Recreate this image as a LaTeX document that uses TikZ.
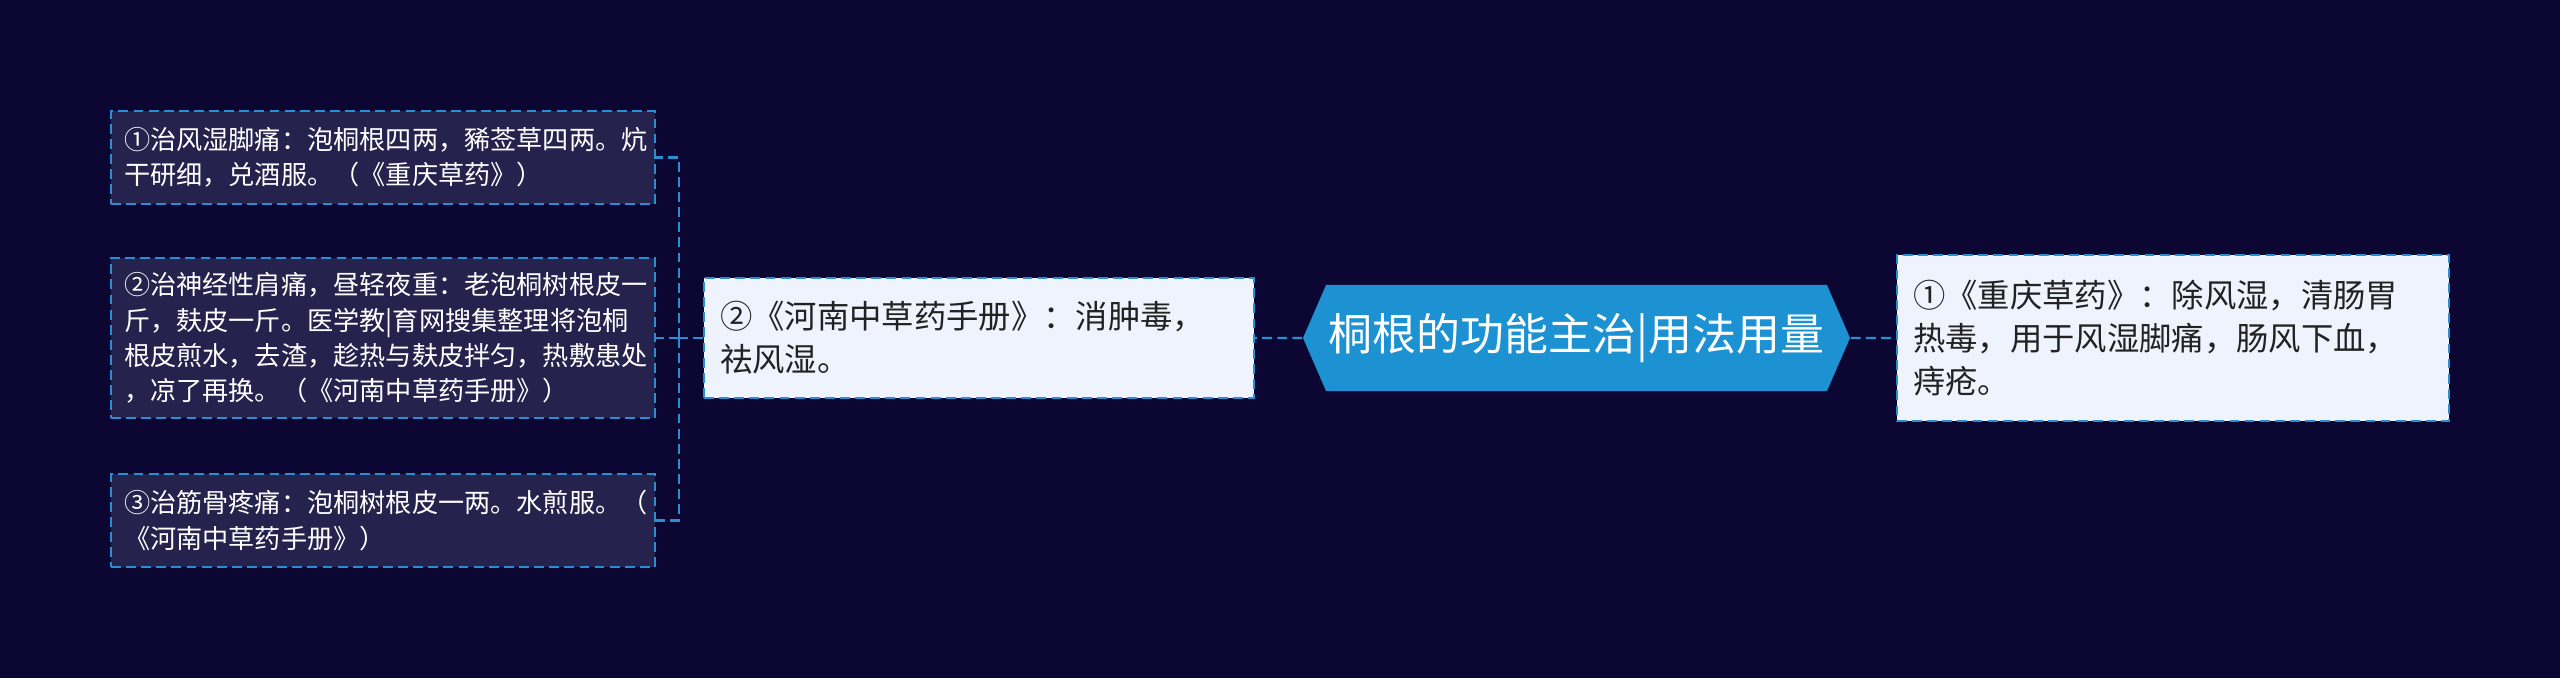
\documentclass[tikz,border=0pt]{standalone}
\usepackage{fontspec}
\setmainfont{Noto Sans CJK SC}
\usetikzlibrary{shapes.symbols}
\definecolor{bgnavy}{RGB}{11,6,50}
\definecolor{leaffill}{RGB}{38,34,78}
\definecolor{linkblue}{RGB}{42,143,208}
\definecolor{rootblue}{RGB}{28,146,210}
\definecolor{paper}{RGB}{238,243,253}
\definecolor{ink}{RGB}{34,34,34}

\begin{document}
\begin{tikzpicture}[
  link/.style={draw=linkblue, line width=0.65pt, dash pattern=on 2.8pt off 1.5pt},
  leaf/.style={link, fill=leaffill, text=white, align=left, inner xsep=0.13cm,
    text width=5.18cm, minimum width=5.44cm, minimum height=0.93cm,
    font=\fontsize{7.45}{10.1}\selectfont},
  sub/.style={link, fill=paper, text=ink, align=left, inner xsep=0.16cm,
    font=\fontsize{9.2}{12.3}\selectfont},
  root/.style={signal, signal to=east and west, signal pointer angle=133,
    fill=rootblue, text=white, inner sep=0pt, minimum width=5.47cm,
    minimum height=1.06cm, font=\fontsize{12.5}{15}\selectfont}
]
\fill[bgnavy] (0,0) rectangle (25.6,6.78);

\node[root] (r) at (15.765,3.40) {桐根的功能主治|用法用量};
\node[sub, text width=5.18cm, minimum width=5.50cm, minimum height=1.20cm] (a) at (9.79,3.40)
  {②《河南中草药手册》：消肿毒，\\祛风湿。};
\node[sub, text width=5.20cm, minimum width=5.52cm, minimum height=1.66cm] (b) at (21.73,3.40)
  {①《重庆草药》：除风湿，清肠胃\\热毒，用于风湿脚痛，肠风下血，\\痔疮。};
\node[leaf] (a1) at (3.83,5.205)
  {①治风湿脚痛：泡桐根四两，豨莶草四两。炕\\干研细，兑酒服。（《重庆草药》）};
\node[leaf, minimum height=1.60cm] (a2) at (3.83,3.40)
  {②治神经性肩痛，昼轻夜重：老泡桐树根皮一\\斤，麸皮一斤。医学教|育网搜集整理将泡桐\\根皮煎水，去渣，趁热与麸皮拌匀，热敷患处\\，凉了再换。（《河南中草药手册》）};
\node[leaf] (a3) at (3.83,1.575)
  {③治筋骨疼痛：泡桐树根皮一两。水煎服。（\\《河南中草药手册》）};
\coordinate (fork) at (6.79,3.40);

\draw[link] (r) -- (a);
\draw[link] (r) -- (b);
\draw[link] (a) -- (fork);
\draw[link] (fork) |- (a1);
\draw[link] (fork) -- (a2);
\draw[link] (fork) |- (a3);
\end{tikzpicture}
\end{document}
